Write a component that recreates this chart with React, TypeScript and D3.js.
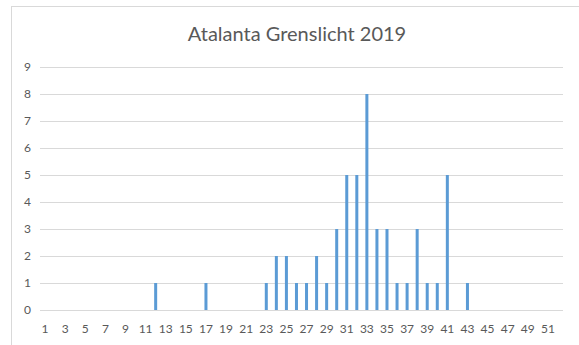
import React from "react";
import * as d3 from "d3";

const categories: number[] = d3.range(1, 53);
const barWeeks: number[] = [12, 17, 23, 24, 25, 26, 27, 28, 29, 30, 31, 32, 33, 34, 35, 36, 37, 38, 39, 40, 41, 43];
const barValues: number[] = [1, 1, 1, 2, 2, 1, 1, 2, 1, 3, 5, 5, 8, 3, 3, 1, 1, 3, 1, 1, 5, 1];
const yTicks: number[] = [0, 1, 2, 3, 4, 5, 6, 7, 8, 9];
const title = "Atalanta Grenslicht 2019";

export default function App() {
  const W = 579, H = 345;
  const left = 40, right = 563, top = 67, bottom = 310;
  const x = d3.scaleBand<number>().domain(categories).range([left, right]).paddingInner(0).paddingOuter(0);
  const y = d3.scaleLinear().domain([0, 9]).range([bottom, top]);
  const data = barWeeks.map((w, i) => ({ w, v: barValues[i] }));
  const barW = 3;
  const font = "Lato, 'Open Sans', 'Liberation Sans', sans-serif";
  return (
    <svg width={W} height={H} style={{ position: "absolute", left: 0, top: 0, background: "#fff" }}>
      <rect x={0} y={0} width={W} height={H} fill="#fff" />
      <line x1={11} x2={W} y1={6.5} y2={6.5} stroke="#d9d9d9" strokeWidth={1} />
      <line x1={11.5} x2={11.5} y1={6} y2={H} stroke="#d9d9d9" strokeWidth={1} />
      <text x={297} y={41} textAnchor="middle" fontFamily={font} fontSize={20} fill="#595959">{title}</text>
      {yTicks.map((t) => (
        <g key={t}>
          <line x1={left} x2={right} y1={Math.round(y(t)) + 0.5} y2={Math.round(y(t)) + 0.5} stroke="#d9d9d9" strokeWidth={1} />
          <text x={31} y={y(t) + 4} textAnchor="end" fontFamily={font} fontSize={12} fill="#595959">{t}</text>
        </g>
      ))}
      {data.map((d) => (
        <rect key={d.w} x={(x(d.w) as number) + x.bandwidth() / 2 - barW / 2} y={y(d.v)} width={barW} height={bottom - y(d.v)} fill="#5b9bd5" />
      ))}
      {categories.filter((c) => c % 2 === 1).map((c) => (
        <text key={c} x={(x(c) as number) + x.bandwidth() / 2} y={333} textAnchor="middle" fontFamily={font} fontSize={12} fill="#595959">{c}</text>
      ))}
    </svg>
  );
}
